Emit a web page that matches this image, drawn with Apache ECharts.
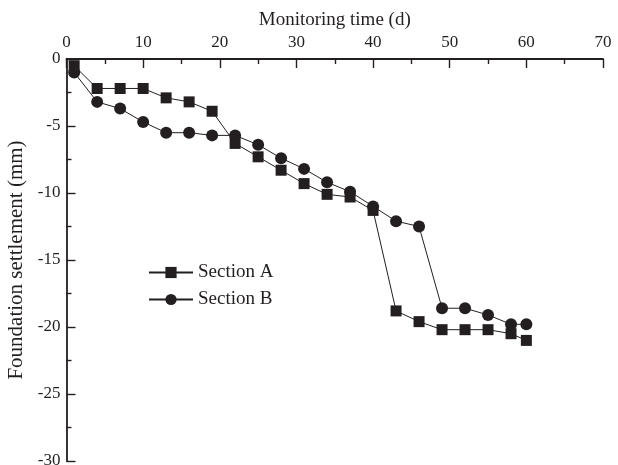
<!DOCTYPE html>
<html><head><meta charset="utf-8">
<script src="https://cdn.jsdelivr.net/npm/echarts@6/dist/echarts.min.js"></script>
<style>html,body{margin:0;padding:0;background:#fff}#c{width:618px;height:465px}</style>
</head><body><div id="c"></div>
<script>
const days = [1,4,7,10,13,16,19,22,25,28,31,34,37,40,43,46,49,52,55,58,60];
const sectionA = [-0.5,-2.2,-2.2,-2.2,-2.9,-3.2,-3.9,-6.3,-7.3,-8.3,-9.3,-10.1,-10.3,-11.3,-18.8,-19.6,-20.2,-20.2,-20.2,-20.5,-21.0];
const sectionB = [-1.0,-3.2,-3.7,-4.7,-5.5,-5.5,-5.7,-5.7,-6.4,-7.4,-8.2,-9.2,-9.9,-11.0,-12.1,-12.5,-18.6,-18.6,-19.1,-19.8,-19.8];
const seriesNames = ['Section A','Section B'];
const xTitle = 'Monitoring time (d)';
const yTitle = 'Foundation settlement (mm)';

const ink = '#231f20';
const font = 'Liberation Serif';
const chart = echarts.init(document.getElementById('c'));
const pair = (xs, ys) => xs.map((x,i)=>[x, ys[i]]);
chart.setOption({
  animation:false,
  backgroundColor:'#fff',
  textStyle:{fontFamily:font,color:ink},
  grid:{left:66.5,top:59,right:15,bottom:4,containLabel:false,outerBoundsMode:'none'},
  legend:{
    orient:'vertical', left:148, top:263, itemWidth:44, itemHeight:14, itemGap:8, padding:0,
    textStyle:{fontFamily:font,fontSize:19,color:ink,lineHeight:14},
    data:seriesNames
  },
  xAxis:{
    type:'value', position:'top', min:0, max:70, interval:10,
    name:xTitle, nameLocation:'middle', nameGap:24,
    nameTextStyle:{fontFamily:font,fontSize:19,color:ink},
    axisLine:{show:true,onZero:false,lineStyle:{color:ink,width:1.8}},
    axisTick:{show:true,inside:true,length:9,lineStyle:{color:ink,width:1.4}},
    minorTick:{show:true,splitNumber:2,length:5,lineStyle:{color:ink,width:1.4}},
    axisLabel:{fontFamily:font,fontSize:17,color:ink,margin:8},
    splitLine:{show:false}
  },
  yAxis:{
    type:'value', min:-30, max:0, interval:5,
    name:yTitle, nameLocation:'middle', nameGap:37, nameRotate:90,
    nameTextStyle:{fontFamily:font,fontSize:21,color:ink},
    axisLine:{show:true,onZero:false,lineStyle:{color:ink,width:1.8}},
    axisTick:{show:true,inside:true,length:9,lineStyle:{color:ink,width:1.4}},
    minorTick:{show:true,splitNumber:2,length:5,lineStyle:{color:ink,width:1.4}},
    axisLabel:{fontFamily:font,fontSize:17,color:ink,margin:6},
    splitLine:{show:false}
  },
  series:[
    {name:seriesNames[0],type:'line',data:pair(days,sectionA),symbol:'rect',symbolSize:11,
     lineStyle:{color:ink,width:1},itemStyle:{color:ink}},
    {name:seriesNames[1],type:'line',data:pair(days,sectionB),symbol:'circle',symbolSize:12,
     lineStyle:{color:ink,width:1},itemStyle:{color:ink}}
  ]
});
</script></body></html>
